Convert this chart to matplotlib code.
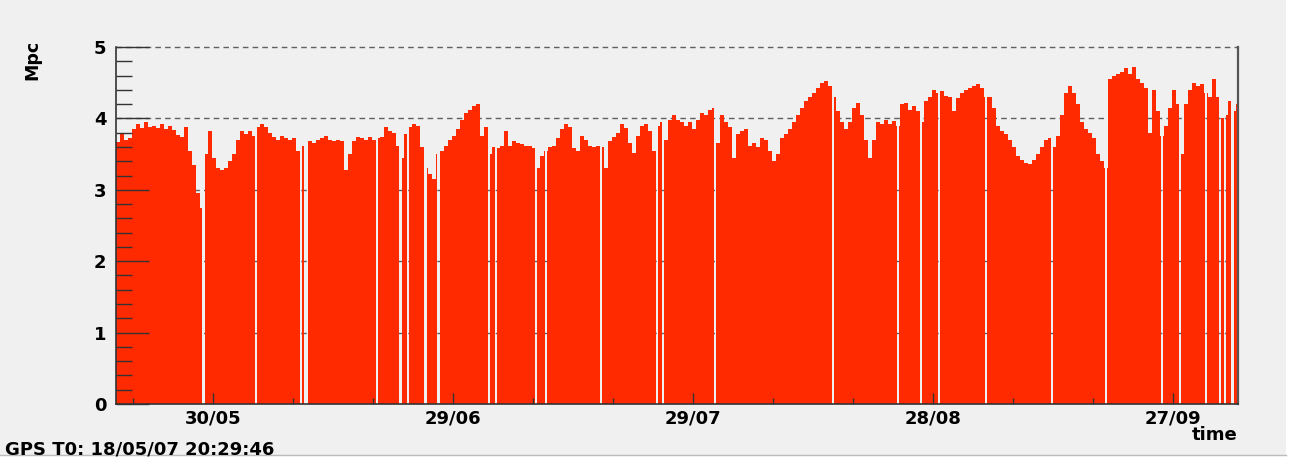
import numpy as np
import matplotlib
matplotlib.use('Agg')
import matplotlib.pyplot as plt
import matplotlib.dates as mdates
from matplotlib.ticker import MultipleLocator, FixedLocator
from matplotlib.patches import Rectangle
from datetime import datetime, timedelta

# axis start and bin width (days)
start = datetime(2007, 5, 17, 21, 0)
bin_days = 0.5

# range in Mpc, one value per half day
mpc = [
    3.67, 3.78, 3.70, 3.72, 3.85, 3.92, 3.86, 3.95, 3.88, 3.90,
    3.86, 3.92, 3.85, 3.90, 3.84, 3.77, 3.74, 3.88, 3.55, 3.35,
    2.95, 2.75, 3.50, 3.82, 3.45, 3.30, 3.28, 3.30, 3.40, 3.50,
    3.70, 3.82, 3.78, 3.82, 3.76, 3.88, 3.92, 3.88, 3.80, 3.74,
    3.70, 3.76, 3.72, 3.70, 3.72, 3.55, 3.62, 3.70, 3.68, 3.66,
    3.70, 3.72, 3.76, 3.70, 3.68, 3.70, 3.68, 3.28, 3.50, 3.68,
    3.74, 3.72, 3.70, 3.74, 3.70, 3.72, 3.74, 3.88, 3.82, 3.80,
    3.62, 3.45, 3.78, 3.88, 3.92, 3.90, 3.60, 3.30, 3.22, 3.15,
    3.50, 3.55, 3.62, 3.70, 3.76, 3.85, 3.98, 4.08, 4.12, 4.18,
    4.20, 3.75, 3.88, 3.50, 3.60, 3.58, 3.62, 3.82, 3.62, 3.68,
    3.66, 3.64, 3.62, 3.62, 3.58, 3.30, 3.48, 3.55, 3.60, 3.62,
    3.72, 3.85, 3.92, 3.88, 3.58, 3.55, 3.75, 3.70, 3.62, 3.60,
    3.62, 3.60, 3.30, 3.68, 3.74, 3.80, 3.92, 3.86, 3.65, 3.52,
    3.75, 3.90, 3.92, 3.82, 3.55, 3.90, 3.95, 3.70, 3.98, 4.05,
    3.98, 3.95, 3.90, 3.95, 3.85, 3.98, 4.08, 4.05, 4.12, 4.15,
    3.65, 4.05, 3.95, 3.88, 3.45, 3.78, 3.82, 3.85, 3.62, 3.66,
    3.60, 3.72, 3.70, 3.55, 3.40, 3.50, 3.72, 3.78, 3.85, 3.95,
    4.05, 4.15, 4.25, 4.30, 4.35, 4.42, 4.50, 4.52, 4.46, 4.30,
    4.10, 3.95, 3.85, 3.95, 4.15, 4.22, 4.05, 3.70, 3.45, 3.70,
    3.95, 3.92, 3.98, 3.92, 3.96, 3.90, 4.20, 4.22, 4.12, 4.18,
    4.10, 3.95, 4.25, 4.30, 4.40, 4.35, 4.38, 4.32, 4.30, 4.10,
    4.28, 4.35, 4.40, 4.42, 4.45, 4.48, 4.42, 4.30, 4.30, 4.15,
    3.90, 3.82, 3.78, 3.70, 3.60, 3.48, 3.42, 3.38, 3.36, 3.42,
    3.50, 3.60, 3.70, 3.72, 3.60, 3.75, 4.05, 4.35, 4.45, 4.35,
    4.20, 3.95, 3.85, 3.80, 3.72, 3.50, 3.40, 3.30, 4.55, 4.60,
    4.62, 4.65, 4.70, 4.62, 4.72, 4.55, 4.50, 4.42, 3.80, 4.40,
    4.10, 3.75, 3.90, 4.15, 4.40, 4.20, 3.50, 4.20, 4.40, 4.50,
    4.45, 4.48, 4.35, 4.30, 4.55, 4.30, 4.00, 4.05, 4.25, 4.10,
    4.20,
]

# dropouts (detector not in science mode): centre and length in days
dropout_day = [10.94, 17.5, 23.12, 23.75, 32.62, 35.56, 36.5, 38.69, 40.31,
               46.62, 47.5, 52.5, 53.75, 60.62, 67.62, 68.38, 74.88, 89.62,
               97.75, 100.62, 102.88, 108.75, 117.0, 123.75, 130.75, 133.0,
               136.25, 138.0, 138.62, 139.56]
dropout_len = [0.3, 0.2, 0.2, 0.45, 0.2, 0.4, 0.2, 0.4, 0.4,
               0.2, 0.2, 0.35, 0.2, 0.2, 0.2, 0.2, 0.2, 0.2,
               0.2, 0.2, 0.2, 0.2, 0.3, 0.2, 0.2, 0.2,
               0.2, 0.2, 0.2, 0.4]

major_dates = [datetime(2007, 5, 30), datetime(2007, 6, 29), datetime(2007, 7, 29),
               datetime(2007, 8, 28), datetime(2007, 9, 27)]

# build histogram edges with the dropouts cut in
vals_in = np.array(mpc)
d0 = np.array(dropout_day) - np.array(dropout_len) / 2
d1 = np.array(dropout_day) + np.array(dropout_len) / 2
cuts = np.unique(np.concatenate([np.arange(len(mpc) + 1) * bin_days, d0, d1]))
mids = (cuts[:-1] + cuts[1:]) / 2
idx = np.minimum((mids // bin_days).astype(int), len(mpc) - 1)
vals = vals_in[idx]
for a, b in zip(d0, d1):
    vals[(mids > a) & (mids < b)] = 0

plt.rcParams['font.family'] = ['DejaVu Sans']
plt.rcParams['font.weight'] = 'bold'

bg = '#f0f0f0'
fig = plt.figure(figsize=(12.93, 4.59), dpi=100, facecolor=bg)
ax = fig.add_axes([116 / 1293, 55 / 459, 1122 / 1293, 357 / 459], facecolor=bg)

t0 = mdates.date2num(start)
ax.stairs(vals, t0 + cuts, fill=True, color='#ff2a00', linewidth=0, zorder=1)

for y in range(1, 6):
    ax.axhline(y, color='#606060', lw=1, ls=(0, (4, 3)), zorder=0.8, clip_on=False)

ax.set_xlim(t0, t0 + 140.25)
ax.set_ylim(0, 5)

ax.xaxis.set_major_locator(FixedLocator(mdates.date2num(major_dates)))
minor = [datetime(2007, 5, 20) + timedelta(days=10 * k) for k in range(15)]
ax.xaxis.set_minor_locator(FixedLocator(mdates.date2num(minor)))
ax.xaxis.set_major_formatter(mdates.DateFormatter('%d/%m'))
ax.yaxis.set_major_locator(MultipleLocator(1))
ax.yaxis.set_minor_locator(MultipleLocator(0.2))

ax.tick_params(axis='y', which='major', direction='in', length=24, width=1,
               color='#333333', pad=7, labelsize=13)
ax.tick_params(axis='y', which='minor', direction='in', length=11.5, width=1,
               color='#333333')
ax.tick_params(axis='x', which='major', direction='in', length=8, width=1,
               color='#333333', pad=4, labelsize=13)
ax.tick_params(axis='x', which='minor', direction='in', length=4.3, width=1,
               color='#333333')

ax.spines['top'].set_visible(False)
for s in ['left', 'bottom']:
    ax.spines[s].set_color('#333333')
    ax.spines[s].set_linewidth(1.2)
ax.spines['right'].set_color('#555555')
ax.spines['right'].set_linewidth(1.6)

fig.text(32 / 1293, 1 - 60 / 459, 'Mpc', rotation=90, ha='center', va='center',
         fontsize=12.5, fontweight='bold')
fig.text(1238 / 1293, 1 - 435 / 459, 'time', ha='right', va='center',
         fontsize=13, fontweight='bold')
fig.text(5 / 1293, 1 - 449 / 459, 'GPS T0: 18/05/07 20:29:46', ha='left', va='center',
         fontsize=13, fontweight='bold')

# white border of the original screenshot
fig.patches.append(Rectangle((1286 / 1293, 0), 7 / 1293, 1, transform=fig.transFigure,
                             facecolor='white', edgecolor='none', zorder=-1))
fig.patches.append(Rectangle((0, 0), 1, 4 / 459, transform=fig.transFigure,
                             facecolor='white', edgecolor='none', zorder=-1))
fig.add_artist(plt.Line2D([0, 1286 / 1293], [4 / 459, 4 / 459], transform=fig.transFigure,
                          color='#bbbbbb', lw=1))

fig.savefig('out.png', dpi=100, facecolor=bg)
